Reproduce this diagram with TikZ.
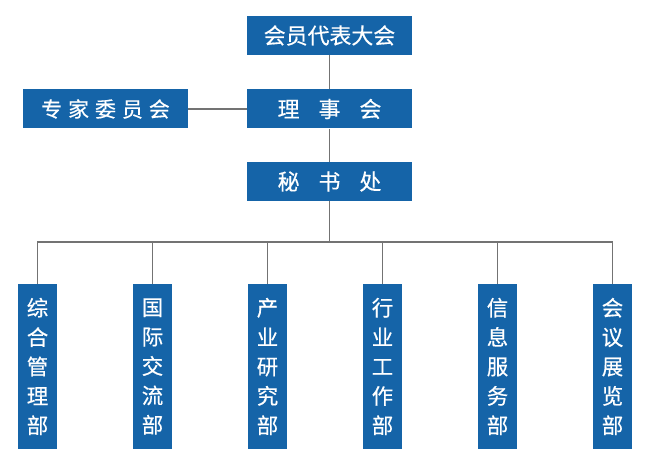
\documentclass[tikz,border=0pt]{standalone}
\usepackage{fontspec}
\newfontfamily\cjk[FakeBold=0.5]{Noto Sans CJK SC}
\definecolor{boxblue}{RGB}{21,100,168}
\definecolor{linegray}{RGB}{115,115,115}
\begin{document}
\begin{tikzpicture}[x=1bp,y=-1bp,
  hbox/.style={fill=boxblue,draw=none,text=white,inner sep=0pt,minimum width=165bp,minimum height=39bp,font=\cjk\fontsize{22}{24}\selectfont},
  vbox/.style={fill=boxblue,draw=none,text=white,inner sep=0pt,minimum width=39bp,minimum height=165bp,align=center,font=\cjk\fontsize{21.5}{29.5}\selectfont},
  conn/.style={draw=linegray,line width=1.3bp}]
\useasboundingbox (0,0) rectangle (650,465);
\node[hbox] (hy) at (329.5,35.5) {会员代表大会};
\node[hbox] (ls) at (329.5,109) {理\hspace{19bp}事\hspace{19bp}会};
\node[hbox,font=\cjk\fontsize{21}{24}\selectfont] (zj) at (105.5,109) {专\hspace{6bp}家\hspace{6bp}委\hspace{6bp}员\hspace{6bp}会};
\node[hbox] (ms) at (329.5,181.5) {秘\hspace{19bp}书\hspace{19bp}处};
\coordinate (bus) at (329.5,242);
\node[vbox] (d1) at (37.5,366.5) {综\\合\\管\\理\\部};
\node[vbox] (d2) at (152.5,366.5) {国\\际\\交\\流\\部};
\node[vbox] (d3) at (267.5,366.5) {产\\业\\研\\究\\部};
\node[vbox] (d4) at (382.5,366.5) {行\\业\\工\\作\\部};
\node[vbox] (d5) at (497.5,366.5) {信\\息\\服\\务\\部};
\node[vbox] (d6) at (612.5,366.5) {会\\议\\展\\览\\部};
\draw[conn] (hy.south) -- (ls.north);
\draw[conn] (ls.south) -- (ms.north);
\draw[conn] (zj.east) -- (ls.west);
\draw[conn] (ms.south) -- (bus);
\draw[conn] (d1.north) |- (bus) -| (d6.north);
\foreach \d in {d2,d3,d4,d5} \draw[conn] (\d.north) -- (\d.north |- bus);
\end{tikzpicture}
\end{document}
